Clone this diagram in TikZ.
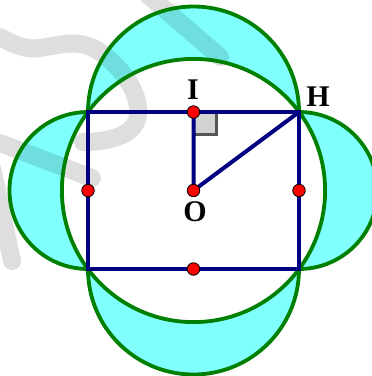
\documentclass[tikz,border=0pt]{standalone}
\usepackage{fontspec}
\setmainfont{Liberation Serif}
\definecolor{lune}{HTML}{80FFFF}
\definecolor{gr}{HTML}{008000}
\definecolor{nv}{HTML}{000080}
\definecolor{mk}{HTML}{555555}
\definecolor{mkf}{HTML}{D3D3D3}
\begin{document}
\begin{tikzpicture}[x=1pt,y=-1pt,
  greenline/.style={draw=gr,line width=3.8pt},
  blueline/.style={draw=nv,line width=4pt},
  wm/.style={draw=black,opacity=0.13,line width=18pt,line cap=round},
  dot/.style={circle,fill=red,draw=black,line width=0.8pt,inner sep=0pt,minimum size=12.5pt},
  lab/.style={font=\bfseries\fontsize{30}{30}\selectfont,inner sep=0pt}]
\useasboundingbox (0,0) rectangle (372,376);
\clip (0,0) rectangle (372,376);
\coordinate (A) at (88,112);
\coordinate (B) at (299,112);
\coordinate (C) at (299,269);
\coordinate (D) at (88,269);
\coordinate (O) at (193.5,190.5);
\coordinate (I) at (193.5,112);
\coordinate (L) at (88,190.5);
\coordinate (R) at (299,190.5);
\coordinate (M) at (193.5,269);
% lunes
\fill[lune] (I) circle[radius=105.5];
\fill[lune] (M) circle[radius=105.5];
\fill[lune] (L) circle[radius=78.5];
\fill[lune] (R) circle[radius=78.5];
\fill[white] (O) circle[radius=131.6];
% watermark
\draw[wm] (0,37) .. controls (15,45) and (25,50) .. (40,48) .. controls (60,45) and (80,38) .. (100,52) .. controls (125,70) and (140,95) .. (138,115) .. controls (136,135) and (110,142) .. (83,142);
\draw[wm] (0,143) -- (92,178);
\draw[wm] (-8,168) -- (12,261);
\draw[wm] (148,-5) -- (220,57);
% green arcs
\draw[greenline] (O) circle[radius=131.6];
\draw[greenline] (A) arc[start angle=180,end angle=360,radius=105.5];
\draw[greenline] (D) arc[start angle=180,end angle=0,radius=105.5];
\draw[greenline] (A) arc[start angle=270,end angle=90,radius=78.5];
\draw[greenline] (B) arc[start angle=-90,end angle=90,radius=78.5];
% right angle mark
\draw[draw=mk,fill=mkf,line width=3pt] (I) rectangle (216.5,134.5);
% rectangle and segments
\draw[blueline] (A) -- (B) -- (C) -- (D) -- cycle;
\draw[blueline] (I) -- (O) -- (B);
% points
\node[dot] (nI) at (I) {};
\node[dot] (nO) at (O) {};
\node[dot] (nL) at (L) {};
\node[dot] (nR) at (R) {};
\node[dot] (nM) at (M) {};
% labels
\node[lab] (tI) at (193,90) {I};
\node[lab] (tH) at (318,97) {H};
\node[lab] (tO) at (195,212) {O};
\end{tikzpicture}
\end{document}
